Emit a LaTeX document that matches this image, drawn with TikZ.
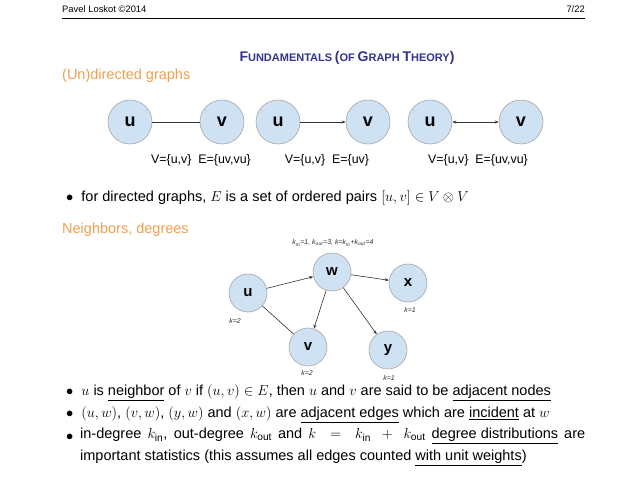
\documentclass[tikz,border=0pt]{standalone}
\usepackage{fontspec}
\setmainfont{Liberation Sans}
\usepackage{amssymb}
\usetikzlibrary{arrows.meta}
\definecolor{nodefill}{HTML}{CFE2F3}
\definecolor{titleblue}{HTML}{33338F}
\definecolor{secorange}{HTML}{F0A050}
\tikzset{
  gnode/.style={circle,draw=gray!70,fill=nodefill,line width=0.6pt,minimum size=#1,inner sep=0pt,font=\bfseries},
  gnode/.default=44pt,
  edge/.style={draw=black!80,line width=0.6pt},
  arr/.style={edge,-{Stealth[length=4pt,width=3pt]}},
  body/.style={anchor=west,font=\fontsize{14.5}{18}\selectfont,inner sep=0pt},
  klab/.style={font=\fontsize{7}{8}\selectfont\itshape,text=black!80}
}
\newcommand{\smc}[2]{{\fontsize{14}{16}\selectfont #1}{\fontsize{11}{13}\selectfont #2}}
\begin{document}
\begin{tikzpicture}[x=1pt,y=-1pt]
\useasboundingbox[fill=white] (0,0) rectangle (638,493);
\node[anchor=west,font=\fontsize{9.4}{10}\selectfont,inner sep=0pt] (hdrl) at (62,9) {Pavel Loskot \textcopyright2014};
\node[anchor=east,font=\fontsize{9.4}{10}\selectfont,inner sep=0pt] (hdrr) at (585,9) {7/22};
\draw[line width=0.4pt] (hdrl.west |- 0,18) coordinate (hl) -- (hdrr.east |- 0,18) coordinate (hr);
\node[text=titleblue,font=\bfseries,inner sep=0pt] (title) at (347,58) {\smc{F}{UNDAMENTALS} \smc{(}{OF} \smc{G}{RAPH} \smc{T}{HEORY}\smc{)}{}};
\node[anchor=west,text=secorange,font=\fontsize{14.5}{18}\selectfont,inner sep=0pt] (sec1) at (62,76) {(Un)directed graphs};
% top graphs
\node[gnode,font=\bfseries\fontsize{18}{20}\selectfont] (u1) at (130,122) {u};
\node[gnode,font=\bfseries\fontsize{18}{20}\selectfont] (v1) at (222,122) {v};
\node[gnode,font=\bfseries\fontsize{18}{20}\selectfont] (u2) at (278,122) {u};
\node[gnode,font=\bfseries\fontsize{18}{20}\selectfont] (v2) at (368,122) {v};
\node[gnode,font=\bfseries\fontsize{18}{20}\selectfont] (u3) at (430,122) {u};
\node[gnode,font=\bfseries\fontsize{18}{20}\selectfont] (v3) at (521,122) {v};
\draw[edge] (u1) -- (v1);
\draw[arr] (u2) -- (v2);
\draw[arr,{Stealth[length=4pt,width=3pt]}-{Stealth[length=4pt,width=3pt]}] (u3) -- (v3);
\node[font=\fontsize{12.4}{14}\selectfont] (l1) at (201,160) {V=\{u,v\}\ \ E=\{uv,vu\}};
\node[font=\fontsize{12.4}{14}\selectfont] (l2) at (327,160) {V=\{u,v\}\ \ E=\{uv\}};
\node[font=\fontsize{12.4}{14}\selectfont] (l3) at (478,160) {V=\{u,v\}\ \ E=\{uv,vu\}};
\node[body] (b1) at (66,198) {$\bullet$\ \ for directed graphs, $E$ is a set of ordered pairs $[u,v]\in V\otimes V$};
\node[anchor=west,text=secorange,font=\fontsize{14.5}{18}\selectfont,inner sep=0pt] (sec2) at (62,230) {Neighbors, degrees};
% degree graph
\node[gnode=38pt,font=\bfseries\fontsize{15}{17}\selectfont] (u) at (248,293) {u};
\node[gnode=38pt,font=\bfseries\fontsize{15}{17}\selectfont] (w) at (332,272) {w};
\node[gnode=38pt,font=\bfseries\fontsize{15}{17}\selectfont] (x) at (408,283) {x};
\node[gnode=38pt,font=\bfseries\fontsize{15}{17}\selectfont] (v) at (308,347) {v};
\node[gnode=38pt,font=\bfseries\fontsize{15}{17}\selectfont] (y) at (388,350) {y};
\draw[arr] (u) -- (w);
\draw[edge] (u) -- (v);
\draw[arr] (w) -- (v);
\draw[arr] (w) -- (x);
\draw[arr] (w) -- (y);
\node[klab] (kw) at (333,243) {k\textsubscript{in}=1, k\textsubscript{out}=3, k=k\textsubscript{in}+k\textsubscript{out}=4};
\node[klab] (ku) at (235,321) {k=2};
\node[klab] (kx) at (410,310) {k=1};
\node[klab] (kv) at (307,373) {k=2};
\node[klab] (ky) at (389,378) {k=1};
% bullets
\node[body] (b2) at (66,393) {$\bullet$\ \ $u$ is \underline{neighbor} of $v$ if $(u,v)\in E$, then $u$ and $v$ are said to be \underline{adjacent nodes}};
\node[body] (b3) at (66,415) {$\bullet$\ \ $(u,w)$, $(v,w)$, $(y,w)$ and $(x,w)$ are \underline{adjacent edges} which are \underline{incident} at $w$};
\node[body] (b4) at (66,437) {$\bullet$};
\node[anchor=north west,font=\fontsize{14.5}{22}\selectfont,inner sep=0pt,text width=505pt,align=justify] (b4t) at (80,428) {in-degree $k_{\mathrm{in}}$, out-degree $k_{\mathrm{out}}$ and $k\ =\ k_{\mathrm{in}}\ +\ k_{\mathrm{out}}$ \underline{degree distributions} are\linebreak important statistics (this assumes all edges counted \underline{with unit weights})};
\end{tikzpicture}
\end{document}
